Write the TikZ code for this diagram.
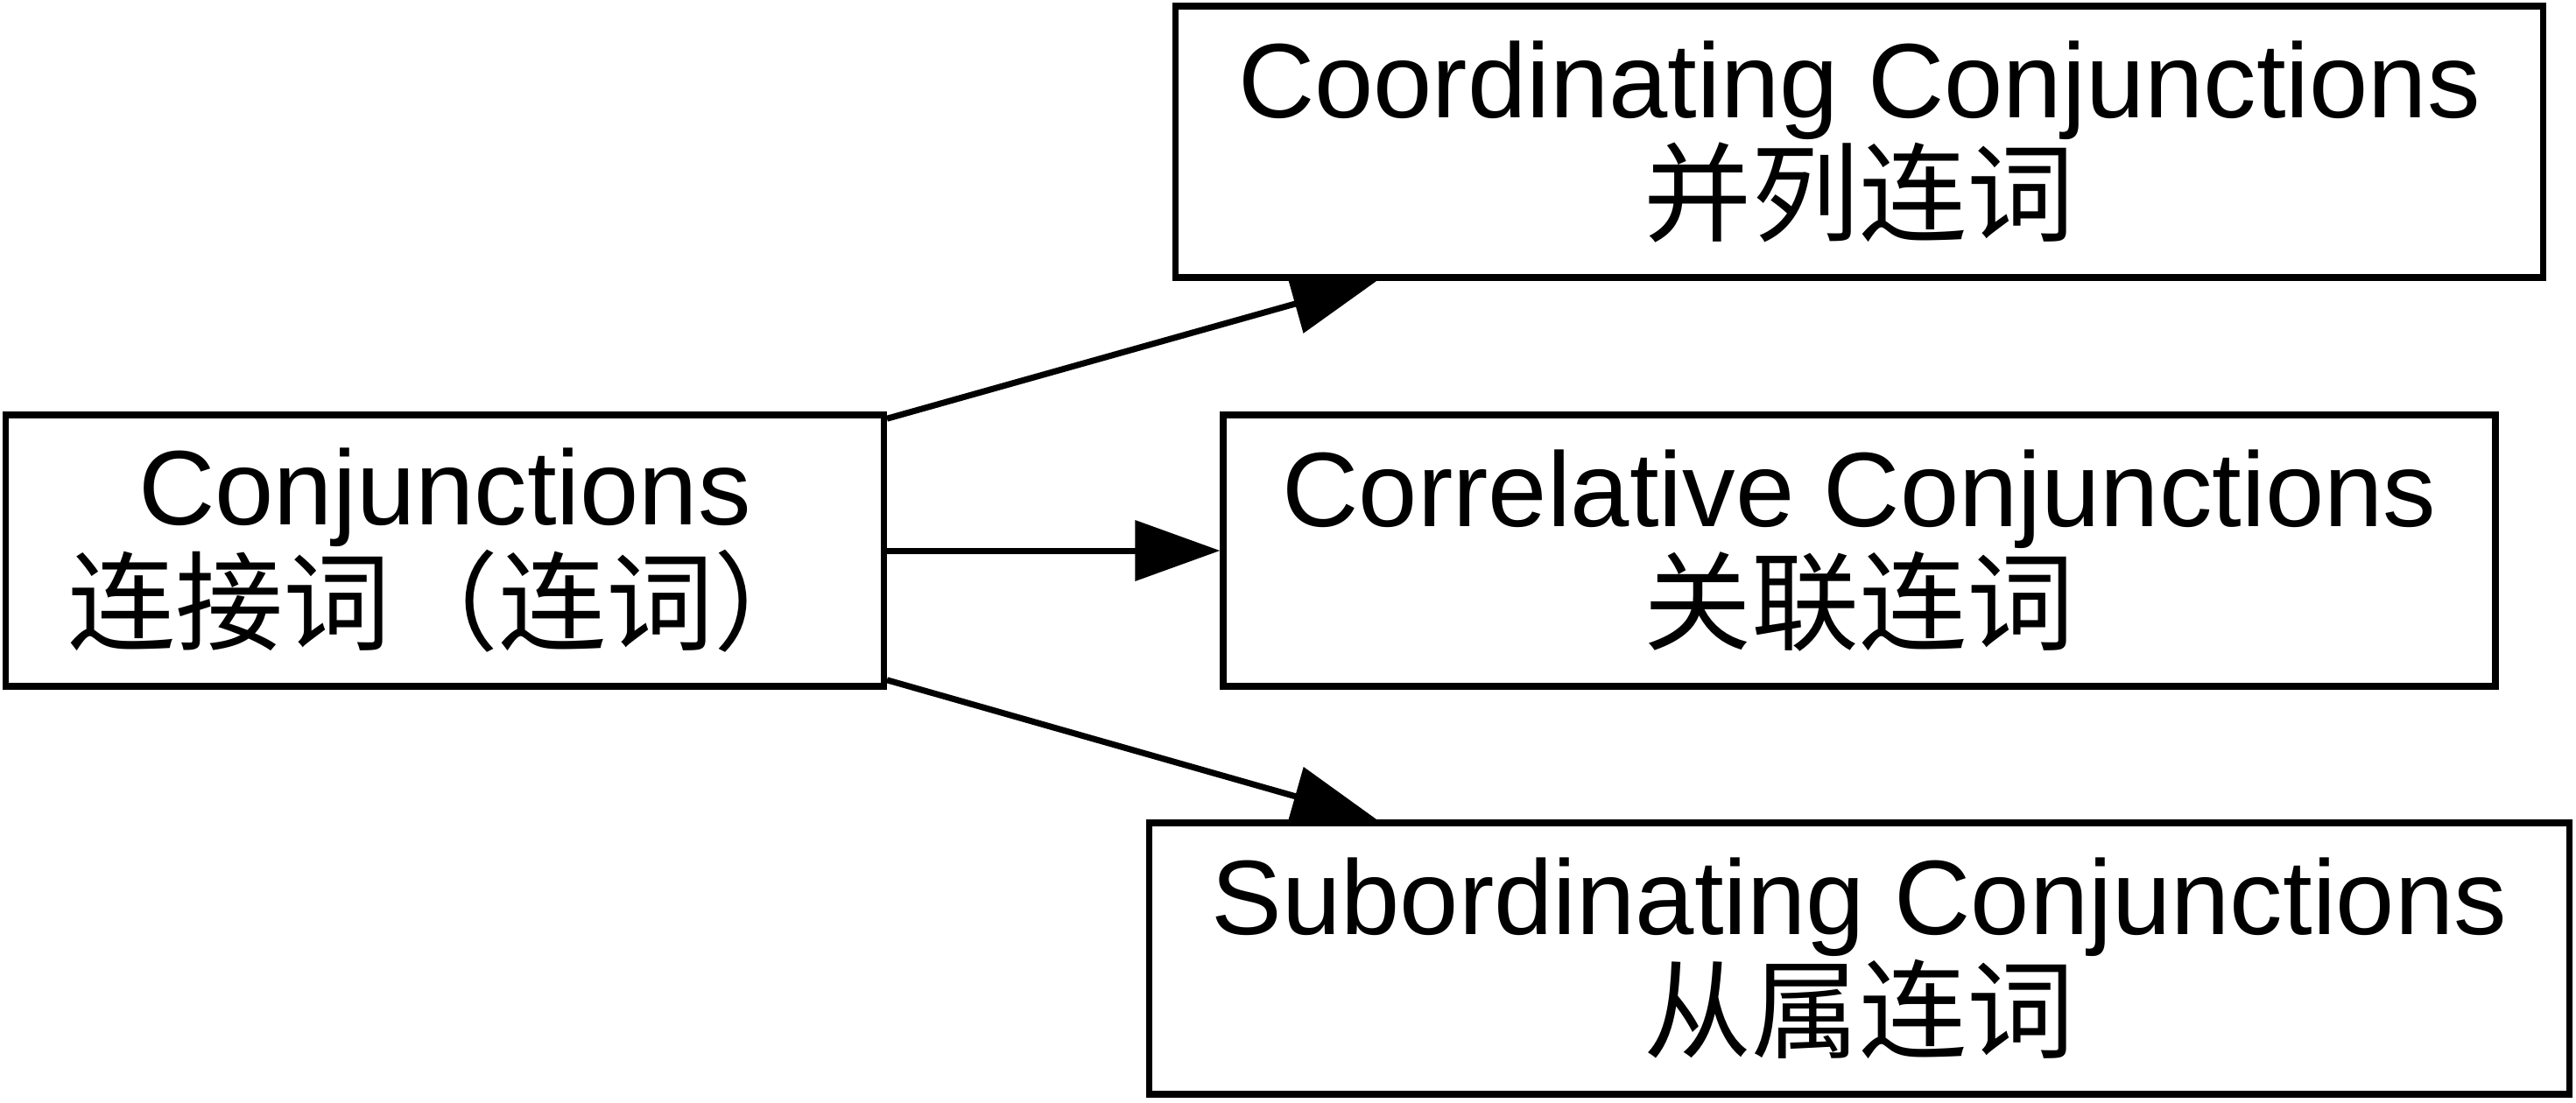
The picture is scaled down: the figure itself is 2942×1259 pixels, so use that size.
\documentclass[tikz,border=0pt]{standalone}
\usepackage{fontspec}
\setmainfont{Liberation Sans}
\newfontfamily\cjk{Noto Sans CJK SC}
\usetikzlibrary{arrows.meta,calc}
\newcommand{\zh}[1]{{\fontsize{35pt}{35.6pt}\selectfont\cjk #1}}
\begin{document}
\begin{tikzpicture}[x=0.01cm,y=-0.01cm,
  box/.style={draw=black,line width=2.1pt,rectangle,inner sep=0pt,minimum height=3.10cm,
    align=center,font=\fontsize{34.4pt}{35.6pt}\selectfont},
  arr/.style={line width=2pt,-{Triangle[length=0.97cm,width=0.68cm]}}]
\useasboundingbox (0,0) rectangle (2942,1259);
\node[box,minimum width=10.02cm] (A) at (508,629) {Conjunctions\\\zh{连接词（连词）}};
\node[box,minimum width=15.61cm] (B) at (2123.5,162) {Coordinating Conjunctions\\\zh{并列连词}};
\node[box,minimum width=14.52cm] (C) at (2123.5,629) {Correlative Conjunctions\\\zh{关联连词}};
\node[box,minimum width=16.21cm] (D) at (2123.5,1095) {Subordinating Conjunctions\\\zh{从属连词}};
\draw[arr] ($(A.north east)+(0,8)$) -- ($(B.south)+(-551,0)$);
\draw[arr] (A.east) -- (C.west);
\draw[arr] ($(A.south east)+(0,-11)$) -- ($(D.north)+(-551,0)$);
\end{tikzpicture}
\end{document}
